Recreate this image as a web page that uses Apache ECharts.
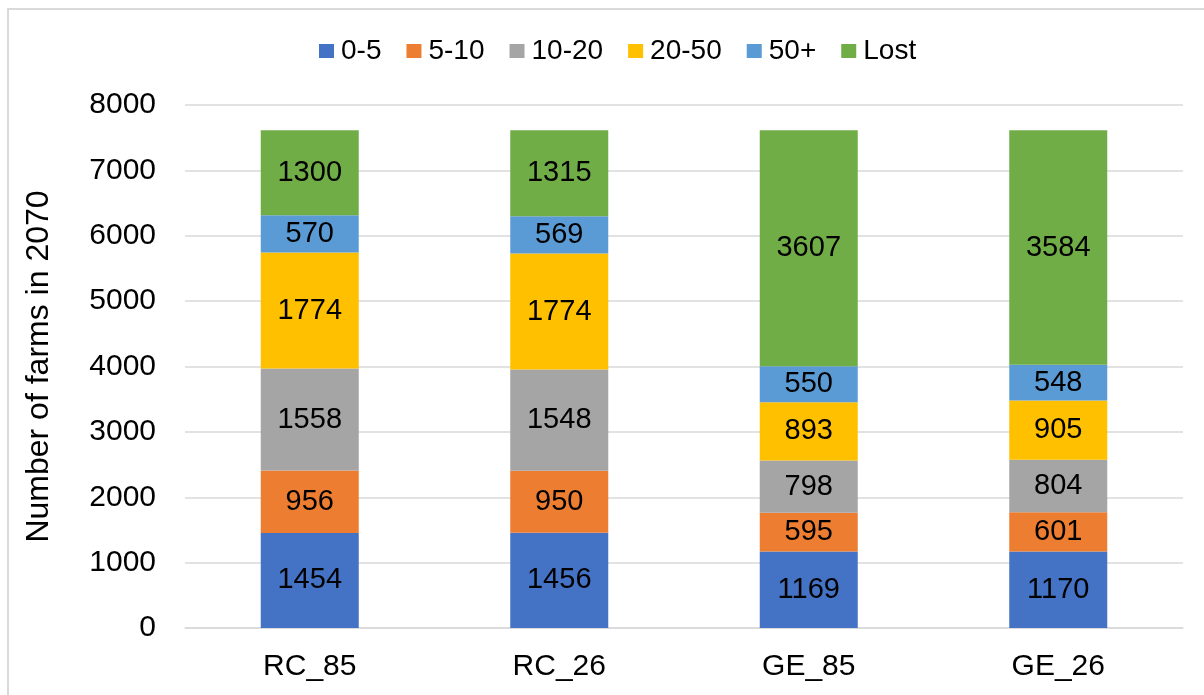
<!DOCTYPE html>
<html>
<head>
<meta charset="utf-8">
<script src="https://cdn.jsdelivr.net/npm/echarts@6/dist/echarts.min.js"></script>
<style>
  html, body { margin: 0; padding: 0; background: #fff; }
  #frame { position: absolute; left: 7px; top: 8px; width: 1210px; height: 700px;
           border-left: 2px solid #d9d9d9; border-top: 2px solid #d9d9d9; }
  #main { position: absolute; left: 0; top: 0; width: 1204px; height: 695px; }
</style>
</head>
<body>
<div id="frame"></div>
<div id="main"></div>
<script>
const categories = ['RC_85', 'RC_26', 'GE_85', 'GE_26']
const groups = ['0-5', '5-10', '10-20', '20-50', '50+', 'Lost']
const size0to5 = [1454, 1456, 1169, 1170]
const size5to10 = [956, 950, 595, 601]
const size10to20 = [1558, 1548, 798, 804]
const size20to50 = [1774, 1774, 893, 905]
const size50plus = [570, 569, 550, 548]
const lost = [1300, 1315, 3607, 3584]
const colors = ['#4472C4', '#ED7D31', '#A5A5A5', '#FFC000', '#5B9BD5', '#70AD47']

const values = [size0to5, size5to10, size10to20, size20to50, size50plus, lost]
const font = 'Liberation Sans, Arial, sans-serif'

const chart = echarts.init(document.getElementById('main'))
const option = {
  animation: false,
  color: colors,
  legend: {
    top: 32,
    left: 314,
    itemWidth: 15,
    itemHeight: 14,
    itemGap: 25,
    icon: 'rect',
    textStyle: { fontFamily: font, fontSize: 28, color: '#000', padding: [0, 0, 0, 2] },
    data: groups
  },
  grid: { left: 185, right: 21, top: 105, bottom: 67 },
  xAxis: {
    type: 'category',
    data: categories,
    axisTick: { show: false },
    axisLine: { lineStyle: { color: '#d9d9d9', width: 1.5 } },
    axisLabel: { fontFamily: font, fontSize: 30, color: '#000', margin: 24 }
  },
  yAxis: {
    type: 'value',
    min: 0,
    max: 8000,
    interval: 1000,
    name: 'Number of farms in 2070',
    nameLocation: 'middle',
    nameGap: 130,
    nameTextStyle: { fontFamily: font, fontSize: 32, color: '#000' },
    axisLabel: { fontFamily: font, fontSize: 30, color: '#000', margin: 29, formatter: v => String(v) },
    splitLine: { lineStyle: { color: '#d9d9d9', width: 1.5 } }
  },
  series: groups.map((g, i) => ({
    name: g,
    type: 'bar',
    stack: 'total',
    barWidth: 98,
    data: values[i],
    label: {
      show: true,
      position: 'inside',
      fontFamily: font,
      fontSize: 29,
      color: '#000'
    }
  }))
}
chart.setOption(option)
</script>
</body>
</html>
